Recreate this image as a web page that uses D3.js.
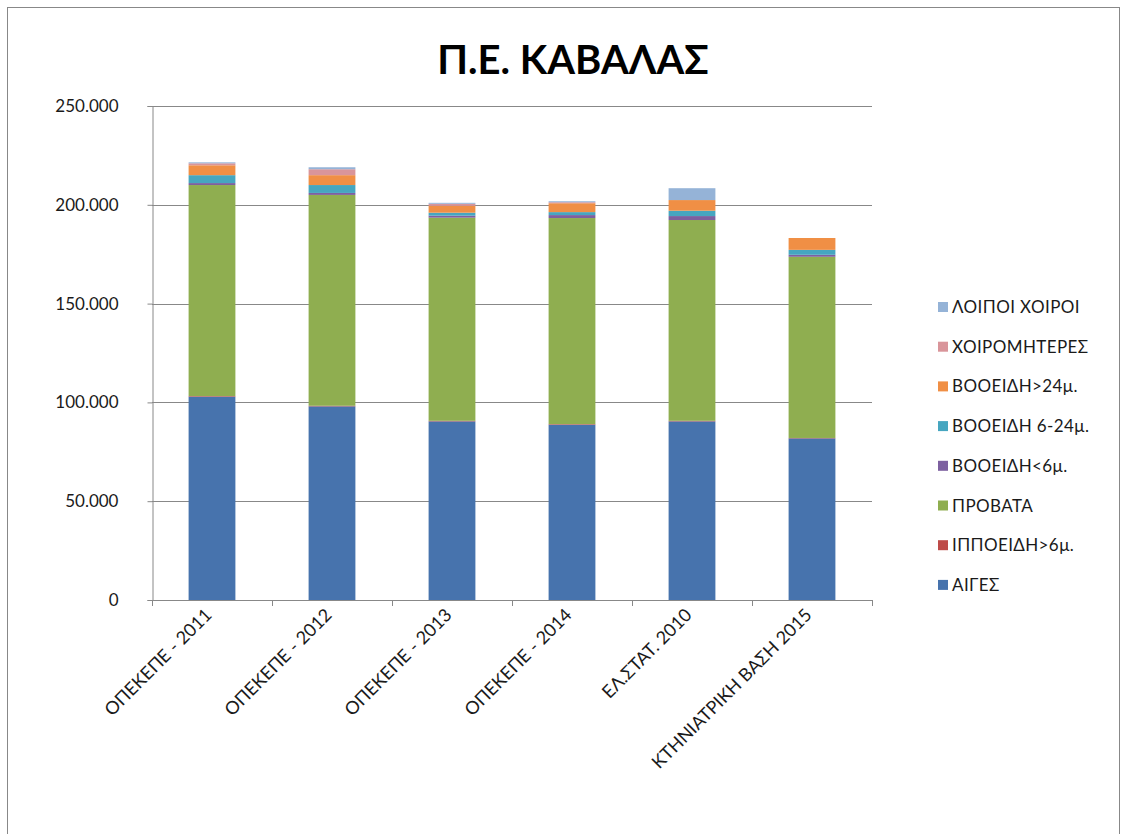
<!DOCTYPE html>
<html>
<head>
<meta charset="utf-8">
<script src="https://cdn.jsdelivr.net/npm/d3@7"></script>
<style>
  body { margin: 0; background: #fff; }
  text { font-family: Lato, "Open Sans", sans-serif; fill: #1a1a1a; }
</style>
</head>
<body>
<script>
// categories
const categories = ['ΟΠΕΚΕΠΕ - 2011', 'ΟΠΕΚΕΠΕ - 2012', 'ΟΠΕΚΕΠΕ - 2013', 'ΟΠΕΚΕΠΕ - 2014', 'ΕΛ.ΣΤΑΤ. 2010', 'ΚΤΗΝΙΑΤΡΙΚΗ ΒΑΣΗ 2015'];

// series, bottom to top
const seriesNames = ['ΑΙΓΕΣ', 'ΙΠΠΟΕΙΔΗ>6μ.', 'ΠΡΟΒΑΤΑ', 'ΒΟΟΕΙΔΗ<6μ.', 'ΒΟΟΕΙΔΗ 6-24μ.', 'ΒΟΟΕΙΔΗ>24μ.', 'ΧΟΙΡΟΜΗΤΕΡΕΣ', 'ΛΟΙΠΟΙ ΧΟΙΡΟΙ'];
const aiges      = [102900, 98000, 90400, 88700, 90400, 81800];
const ippoeidi   = [300, 300, 300, 300, 300, 200];
const provata    = [106800, 106700, 102800, 104300, 101600, 91700];
const vooeidi6   = [1000, 1000, 1000, 1500, 2000, 1000];
const vooeidi24  = [4000, 4000, 1500, 1500, 2700, 2500];
const vooeidiOld = [5000, 5000, 3500, 4500, 5400, 6000];
const xoiromht   = [1000, 3000, 1000, 500, 0, 0];
const loipoi     = [500, 1000, 500, 500, 6000, 0];
const yTicks = [0, 50000, 100000, 150000, 200000, 250000];

const seriesValues = [aiges, ippoeidi, provata, vooeidi6, vooeidi24, vooeidiOld, xoiromht, loipoi];
const colors = ['#4773ad', '#be4b48', '#8fae50', '#7d60a0', '#46a6c0', '#f08f45', '#d9959a', '#95b3d7'];

// table for d3.stack
const table = categories.map((c, i) => {
  const row = { cat: c };
  seriesNames.forEach((s, j) => row[s] = seriesValues[j][i]);
  return row;
});

const svg = d3.select('body').append('svg').attr('width', 1127).attr('height', 834);

// chart frame
svg.append('rect')
  .attr('x', 7.5).attr('y', 7.5)
  .attr('width', 1112).attr('height', 840)
  .style('fill', 'none').style('stroke', '#888');

const plotLeft = 152, plotRight = 872, plotTop = 106, plotBottom = 600;

const x = d3.scaleBand().domain(categories).range([plotLeft, plotRight]).paddingInner(0.61).paddingOuter(0.305);
const y = d3.scaleLinear().domain([0, 250000]).range([plotBottom, plotTop]);

const fmt = d3.formatLocale({ decimal: ',', thousands: '.', grouping: [3], currency: ['', '€'] }).format(',');

// grid lines
svg.append('g').selectAll('line').data(yTicks.filter(d => d > 0)).join('line')
  .attr('x1', plotLeft).attr('x2', plotRight)
  .attr('y1', d => Math.round(y(d)) + 0.5).attr('y2', d => Math.round(y(d)) + 0.5)
  .style('stroke', '#888');

// y axis
const yAxis = svg.append('g').attr('transform', `translate(${plotLeft + 0.5},0)`)
  .call(d3.axisLeft(y).tickValues(yTicks).tickFormat(d => fmt(d)).tickSize(5).tickPadding(29));
yAxis.select('.domain').style('stroke', '#888');
yAxis.selectAll('.tick line').style('stroke', '#888');
yAxis.selectAll('text').style('font-size', '17px').style('font-family', 'Lato, sans-serif').style('fill', '#1a1a1a');

// stacked bars
const stack = d3.stack().keys(seriesNames)(table);
svg.append('g').selectAll('g').data(stack).join('g')
  .style('fill', (d, i) => colors[i])
  .selectAll('rect').data(d => d).join('rect')
  .attr('x', d => x(d.data.cat))
  .attr('width', x.bandwidth())
  .attr('y', d => y(d[1]))
  .attr('height', d => y(d[0]) - y(d[1]));

// x axis line and ticks between categories
const step = x.step();
svg.append('line')
  .attr('x1', plotLeft).attr('x2', plotRight)
  .attr('y1', plotBottom + 0.5).attr('y2', plotBottom + 0.5)
  .style('stroke', '#888');
svg.append('g').selectAll('line').data(d3.range(categories.length + 1)).join('line')
  .attr('x1', i => Math.round(plotLeft + i * step) + 0.5).attr('x2', i => Math.round(plotLeft + i * step) + 0.5)
  .attr('y1', plotBottom).attr('y2', plotBottom + 6)
  .style('stroke', '#888');

// rotated category labels
svg.append('g').selectAll('text').data(categories).join('text')
  .attr('transform', d => `translate(${x(d) + x.bandwidth() / 2 + 1},${plotBottom + 16}) rotate(-45)`)
  .attr('text-anchor', 'end')
  .style('font-size', '18px')
  .text(d => d);

// title
svg.append('text')
  .attr('x', 573).attr('y', 74)
  .attr('text-anchor', 'middle')
  .style('font-size', '40px')
  .style('font-weight', 'bold')
  .style('fill', '#000')
  .text('Π.Ε. ΚΑΒΑΛΑΣ');

// legend, last series on top
const legend = svg.append('g').selectAll('g').data(seriesNames.slice().reverse()).join('g')
  .attr('transform', (d, i) => `translate(938,${307 + i * 39.7})`);
legend.append('rect')
  .attr('x', 0).attr('y', -5)
  .attr('width', 10).attr('height', 10)
  .style('fill', d => colors[seriesNames.indexOf(d)]);
legend.append('text')
  .attr('x', 14).attr('y', 6)
  .style('font-size', '17px')
  .style('letter-spacing', '0.4px')
  .text(d => d);
</script>
</body>
</html>
